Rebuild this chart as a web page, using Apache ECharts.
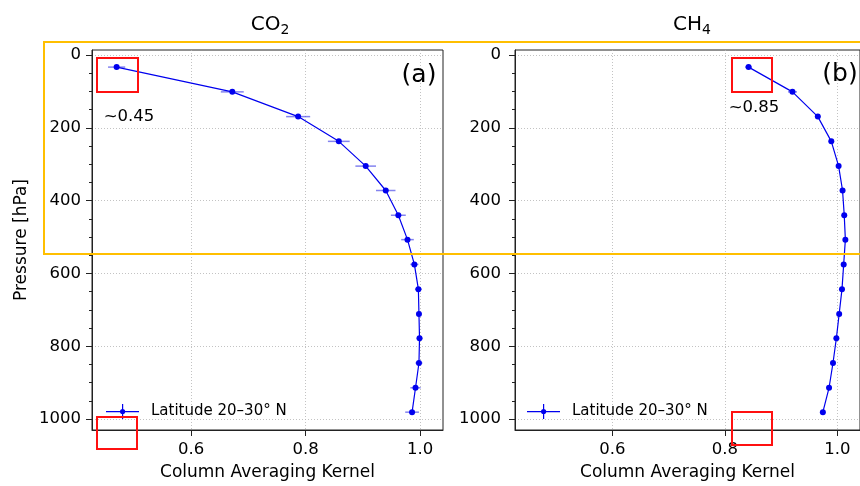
<!DOCTYPE html>
<html>
<head>
<meta charset="utf-8">
<script src="https://cdn.jsdelivr.net/npm/echarts@6/dist/echarts.min.js"></script>
<style>
  html, body { margin: 0; padding: 0; background: #fff; }
  #main { width: 860px; height: 486px; }
</style>
</head>
<body>
<div id="main"></div>
<script>
// pressure levels [hPa], shared by both panels
var pressure = [33, 101, 169, 237, 305, 372, 440, 507, 575, 643, 711, 778, 846, 914, 981];

// CO2 column averaging kernel and x error
var co2Kernel = [0.470, 0.672, 0.787, 0.858, 0.905, 0.940, 0.962, 0.978, 0.990, 0.997, 0.998, 0.999, 0.998, 0.992, 0.986];
var co2Err = [0.015, 0.020, 0.021, 0.019, 0.018, 0.017, 0.013, 0.011, 0.007, 0.006, 0.004, 0.005, 0.006, 0.009, 0.012];

// CH4 column averaging kernel and x error
var ch4Kernel = [0.842, 0.920, 0.965, 0.989, 1.002, 1.009, 1.012, 1.014, 1.011, 1.008, 1.003, 0.998, 0.992, 0.985, 0.974];
var ch4Err = [0.006, 0.008, 0.005, 0.004, 0.003, 0.003, 0.003, 0.003, 0.003, 0.003, 0.003, 0.003, 0.003, 0.003, 0.004];

var xTicks = [0.6, 0.8, 1.0];
var yTicks = [0, 200, 400, 600, 800, 1000];
var yMinorTicks = [50, 100, 150, 250, 300, 350, 450, 500, 550, 650, 700, 750, 850, 900, 950];

var seriesName = 'Latitude 20–30° N';
var FONT = 'DejaVu Sans';
var BLUE = '#0000ee';

var chart = echarts.init(document.getElementById('main'), null, { renderer: 'canvas' });

function makeX(gridIndex) {
  return {
    type: 'value', gridIndex: gridIndex,
    min: 0.427, max: 1.04, splitNumber: 3,
    name: 'Column Averaging Kernel', nameLocation: 'middle', nameGap: 34,
    nameTextStyle: { fontFamily: FONT, fontSize: 17, color: '#000' },
    axisLine: { show: true, onZero: false, lineStyle: { color: '#222', width: 1 } },
    axisTick: { show: true, inside: false, length: 6, customValues: xTicks, lineStyle: { color: '#222' } },
    axisLabel: { customValues: xTicks, margin: 11, fontFamily: FONT, fontSize: 16.5, color: '#000',
      formatter: function (v) { return v.toFixed(1); } },
    splitLine: { show: true, lineStyle: { color: '#b4b4b4', type: [1, 2], width: 0.8 } }
  };
}

function makeY(gridIndex, labelMargin, withName) {
  return {
    type: 'value', gridIndex: gridIndex, inverse: true,
    min: -14, max: 1030, splitNumber: 5,
    name: withName ? 'Pressure [hPa]' : '', nameLocation: 'middle', nameGap: 62, nameRotate: 90,
    nameTextStyle: { fontFamily: FONT, fontSize: 17, color: '#000' },
    axisLine: { show: true, onZero: false, lineStyle: { color: '#222', width: 1 } },
    axisTick: { show: true, inside: false, length: 6, customValues: yTicks, lineStyle: { color: '#222' } },
    axisLabel: { customValues: yTicks, margin: labelMargin, fontFamily: FONT, fontSize: 16.5, color: '#000',
      formatter: function (v) { return String(v); } },
    splitLine: { show: true, lineStyle: { color: '#b4b4b4', type: [1, 2], width: 0.8 } }
  };
}

function makeYMinor(gridIndex) {
  return {
    type: 'value', gridIndex: gridIndex, inverse: true,
    min: -14, max: 1030, position: 'left',
    axisLine: { show: false },
    axisTick: { show: true, inside: false, length: 3, customValues: yMinorTicks, lineStyle: { color: '#222' } },
    axisLabel: { show: false },
    splitLine: { show: false }
  };
}

function errSeries(kernel, err, xi, yi) {
  return {
    type: 'custom', xAxisIndex: xi, yAxisIndex: yi, silent: true, z: 2,
    data: kernel.map(function (k, i) { return [k, pressure[i], err[i]]; }),
    encode: { x: 0, y: 1 },
    renderItem: function (params, api) {
      var k = api.value(0), p = api.value(1), e = api.value(2);
      var a = api.coord([k - e, p]);
      var b = api.coord([k + e, p]);
      return {
        type: 'line',
        shape: { x1: a[0], y1: a[1], x2: b[0], y2: b[1] },
        style: { stroke: 'rgba(30,30,225,0.55)', lineWidth: 1.5 }
      };
    }
  };
}

function lineSeries(kernel, xi, yi) {
  return {
    name: seriesName, type: 'line', xAxisIndex: xi, yAxisIndex: yi, z: 3,
    data: kernel.map(function (k, i) { return [k, pressure[i]]; }),
    symbol: 'circle', symbolSize: 6, showSymbol: true,
    itemStyle: { color: BLUE, borderWidth: 0 },
    lineStyle: { color: BLUE, width: 1.2 }
  };
}

// errorbar-like legend icon: horizontal line, dot, vertical tick
var legendIcon = 'path://M0,7h33v1.2h-33z M16,0h1.2v15h-1.2z M19.2,7.6a2.6,2.6 0 1 1 -5.2,0a2.6,2.6 0 1 1 5.2,0z M39.9,7.5h0.1v0.05h-0.1z';

function makeLegend(left) {
  return {
    left: left, top: 404, orient: 'vertical', padding: 0,
    itemWidth: 40, itemHeight: 15,
    data: [{ name: seriesName, icon: legendIcon }],
    itemStyle: { borderWidth: 0 },
    textStyle: { fontFamily: FONT, fontSize: 15, color: '#000' },
    selectedMode: false
  };
}

function txt(text, x, y, size) {
  return {
    type: 'text', x: x, y: y, z: 100,
    style: { text: text, fill: '#000', font: size + 'px "' + FONT + '"',
      align: 'center', verticalAlign: 'middle', textAlign: 'center', textVerticalAlign: 'middle' }
  };
}

// title with a real subscript
function subTitle(main, sub, x, y) {
  return {
    type: 'text', x: x, y: y, z: 100,
    style: {
      text: '{m|' + main + '}{s|' + sub + '}',
      align: 'center', verticalAlign: 'middle', textAlign: 'center', textVerticalAlign: 'middle',
      rich: {
        m: { fontFamily: FONT, fontSize: 20, lineHeight: 24, fill: '#000', color: '#000' },
        s: { fontFamily: FONT, fontSize: 14, lineHeight: 14, verticalAlign: 'bottom', fill: '#000', color: '#000' }
      }
    }
  };
}

function box(x, y, w, h, color) {
  return {
    type: 'rect', z: 100, silent: true,
    shape: { x: x, y: y, width: w, height: h },
    style: { fill: 'none', stroke: color, lineWidth: 2 }
  };
}

var option = {
  animation: false,
  backgroundColor: '#fff',
  grid: [
    { left: 92, top: 50, width: 351, height: 383, show: true, borderColor: '#222', borderWidth: 1, backgroundColor: 'transparent' },
    { left: 515, top: 50, width: 349, height: 383, show: true, borderColor: '#222', borderWidth: 1, backgroundColor: 'transparent' }
  ],
  xAxis: [makeX(0), makeX(1)],
  yAxis: [makeY(0, 11, true), makeYMinor(0), makeY(1, 14, false), makeYMinor(1)],
  legend: [makeLegend(106), makeLegend(527)],
  series: [
    errSeries(co2Kernel, co2Err, 0, 0),
    lineSeries(co2Kernel, 0, 0),
    errSeries(ch4Kernel, ch4Err, 1, 2),
    lineSeries(ch4Kernel, 1, 2)
  ],
  graphic: [
    subTitle('CO', '2', 270, 25),
    subTitle('CH', '4', 692, 25),
    txt('(a)', 419, 75, 25),
    txt('(b)', 840, 74, 25),
    txt('~0.45', 129, 117, 16.5),
    txt('~0.85', 754, 108, 16.5),
    box(97, 58, 41, 34, '#ff1010'),
    box(97, 417, 40, 32, '#ff1010'),
    box(732, 58, 40, 34, '#ff1010'),
    box(732, 412, 40, 33, '#ff1010'),
    box(44, 42, 900, 212, '#ffbf00')
  ]
};

chart.setOption(option);
</script>
</body>
</html>
